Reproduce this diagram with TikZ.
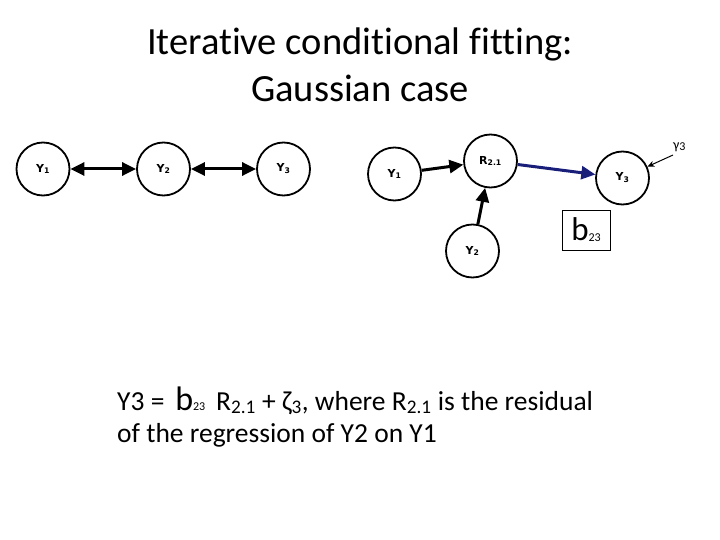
\documentclass[tikz,border=0pt]{standalone}
\usepackage{fontspec}
\setmainfont{Carlito}[Ligatures=NoCommon]
\newfontfamily\nodefont{DejaVu Sans}
\usetikzlibrary{arrows.meta}
\definecolor{navyarrow}{RGB}{25,30,120}
\tikzset{
  var/.style={circle,draw=black,line width=1.8pt,minimum size=53pt,inner sep=0pt,font=\nodefont\bfseries\fontsize{11}{13}\selectfont},
  thickarrow/.style={line width=3pt,-{Triangle[length=14pt,width=13pt]}},
  dblarrow/.style={line width=3pt,{Triangle[length=14pt,width=13pt]}-{Triangle[length=14pt,width=13pt]}},
}
\begin{document}
\begin{tikzpicture}[x=1pt,y=-1pt]
\useasboundingbox (0,0) rectangle (720,540);
% title
\node[font=\fontsize{38.5}{47}\selectfont,align=center,anchor=base] (title) at (360,102) {Iterative conditional fitting:\\Gaussian case};
% left graph
\node[var] (a1) at (43,169) {Y\textsubscript{1}};
\node[var] (a2) at (163.5,169) {Y\textsubscript{2}};
\node[var] (a3) at (283.5,169) {Y\textsubscript{3}};
\draw[dblarrow] (a1) -- (a2);
\draw[dblarrow] (a2) -- (a3);
% right graph
\node[var] (b1) at (394.5,174) {Y\textsubscript{1}};
\node[var] (r) at (490.5,161) {R\textsubscript{2.1}};
\node[var] (b2) at (472.5,251) {Y\textsubscript{2}};
\node[var] (b3) at (622.5,178) {Y\textsubscript{3}};
\draw[thickarrow] (b1) -- (r);
\draw[thickarrow] (b2) -- (r);
\draw[line width=3pt,draw=navyarrow,-{Triangle[length=14pt,width=13pt]},color=navyarrow] (r) -- (b3);
\node[draw=black,line width=0.9pt,inner sep=0pt,minimum width=48pt,minimum height=40pt] (box) at (586,230) {\fontsize{33}{33}\selectfont b\raisebox{-1pt}{\fontsize{12}{12}\selectfont 23}};
\node[font=\fontsize{14}{14}\selectfont,anchor=west,inner sep=0pt] (gam) at (673,147) {γ\raisebox{-1pt}{\fontsize{12}{12}\selectfont 3}};
\coordinate (gs) at (673,155);
\draw[line width=1pt,-{Stealth[length=7pt,width=6pt]}] (gs) -- (b3);
% equation
\node[anchor=base west,align=left,inner sep=0pt,font=\fontsize{27.5}{32}\selectfont] (eq) at (117,442) {Y3 = \,{\fontsize{34}{32}\selectfont b}{\fontsize{12}{12}\selectfont 23}\, R\textsubscript{2.1} + ζ\textsubscript{3}, where R\textsubscript{2.1} is the residual\\of the regression of Y2 on Y1};
\end{tikzpicture}
\end{document}
